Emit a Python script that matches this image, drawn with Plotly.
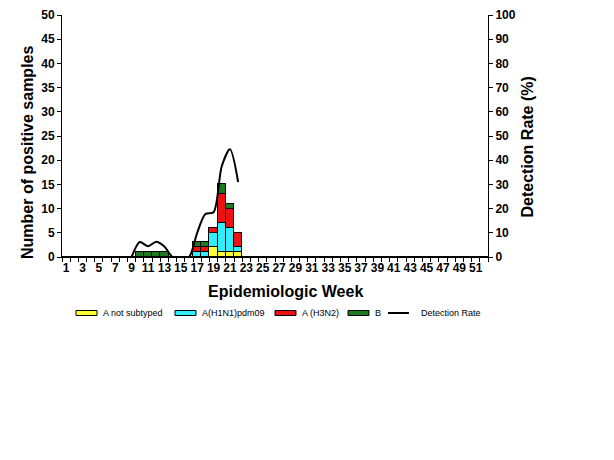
import plotly.graph_objects as go

weeks = list(range(1, 53))

# positive samples per week (weeks 1..52)
a_not_subtyped = [0] * 52
a_h1n1 = [0] * 52
a_h3n2 = [0] * 52
b_flu = [0] * 52
for w, v in {19: 2, 20: 1, 21: 1, 22: 1}.items():
    a_not_subtyped[w - 1] = v
for w, v in {17: 1, 18: 1, 19: 3, 20: 6, 21: 5, 22: 1}.items():
    a_h1n1[w - 1] = v
for w, v in {17: 1, 18: 1, 19: 1, 20: 6, 21: 4, 22: 3}.items():
    a_h3n2[w - 1] = v
for w, v in {10: 1, 11: 1, 12: 1, 13: 1, 17: 1, 18: 1, 20: 2, 21: 1}.items():
    b_flu[w - 1] = v

rate_weeks = [9, 10, 11, 12, 13, 14, 15, 16, 17, 18, 19, 20, 21, 22]
rate_values = [0, 6.2, 4.4, 6.3, 4.3, 0, 0, 0, 10, 17.8, 18.5, 37.5, 44.5, 31]

xtick_vals = list(range(1, 52, 2))

series = [
    ("A not subtyped", a_not_subtyped, "#FFFF33"),
    ("A(H1N1)pdm09", a_h1n1, "#33EEFF"),
    ("A (H3N2)", a_h3n2, "#EE1111"),
    ("B", b_flu, "#1E7A1E"),
]

# the page body adds an 8px offset, so margins are set 8px smaller
OFF = 8
W, H = 614, 460
L, T = 62 - OFF, 15 - OFF
PW, PH = 426, 242
R, B = W - L - PW, H - T - PH

fig = go.Figure()
for name, vals, color in series:
    fig.add_trace(go.Bar(
        x=weeks, y=vals, name=name,
        marker=dict(color=color, line=dict(color="black", width=1)),
    ))

fig.add_trace(go.Scatter(
    x=rate_weeks, y=rate_values, name="Detection Rate", yaxis="y2",
    mode="lines", line=dict(color="black", width=2, shape="spline", smoothing=0.8),
))

font = "Liberation Sans, Arial, sans-serif"
tickfont = dict(family=font, size=12, color="black", weight="bold")
titlefont = dict(family=font, size=16, color="black", weight="bold")
axis_common = dict(showline=True, linecolor="black", linewidth=1, showgrid=False,
                   zeroline=False, ticklen=4, tickcolor="black",
                   tickfont=tickfont, automargin=False)

# screen pixel positions converted to paper units
def px_x(p):
    return (p - OFF - L) / PW

def px_y(p):
    return (T + PH - (p - OFF)) / PH

# axis titles sit a little off-centre in the original, so place them as annotations
annotations = [
    dict(text="Number of positive samples", x=px_x(27), y=px_y(153), textangle=-90),
    dict(text="Detection Rate (%)", x=px_x(527), y=px_y(147.5), textangle=-90),
    dict(text="Epidemiologic Week", x=px_x(285.5), y=px_y(291.5)),
]
for a in annotations:
    a.update(xref="paper", yref="paper", xanchor="center", yanchor="middle",
             showarrow=False, font=titlefont)

legend_y = 313
legend_font = dict(family=font, size=9, color="black")
shapes = []
for (name, _, color), sx in zip(series, [76, 175, 275, 348]):
    shapes.append(dict(type="rect", xref="paper", yref="paper",
                       x0=px_x(sx), x1=px_x(sx + 21), y0=px_y(legend_y + 2.5), y1=px_y(legend_y - 2.5),
                       fillcolor=color, line=dict(color="black", width=1)))
    annotations.append(dict(text=name, xref="paper", yref="paper", x=px_x(sx + 25), y=px_y(legend_y),
                            xanchor="left", yanchor="middle", showarrow=False, font=legend_font))
shapes.append(dict(type="line", xref="paper", yref="paper",
                   x0=px_x(388), x1=px_x(409), y0=px_y(legend_y), y1=px_y(legend_y),
                   line=dict(color="black", width=2)))
annotations.append(dict(text="Detection Rate", xref="paper", yref="paper", x=px_x(419), y=px_y(legend_y),
                        xanchor="left", yanchor="middle", showarrow=False, font=legend_font))

fig.update_layout(
    width=W, height=H,
    margin=dict(l=L, r=R, t=T, b=B),
    paper_bgcolor="white", plot_bgcolor="white",
    barmode="stack", bargap=0,
    font=dict(family=font, color="black"),
    showlegend=False,
    shapes=shapes, annotations=annotations,
    xaxis=dict(
        **axis_common,
        range=[0.5, 52.5], tickmode="array", tickvals=xtick_vals, ticks="",
        minor=dict(tick0=0.5, dtick=1, ticks="outside", ticklen=4, tickcolor="black"),
    ),
    yaxis=dict(**axis_common, ticks="outside", range=[0, 50], dtick=5),
    yaxis2=dict(**axis_common, ticks="outside", range=[0, 100], dtick=10,
                overlaying="y", side="right"),
)

fig.write_html("out.html")
